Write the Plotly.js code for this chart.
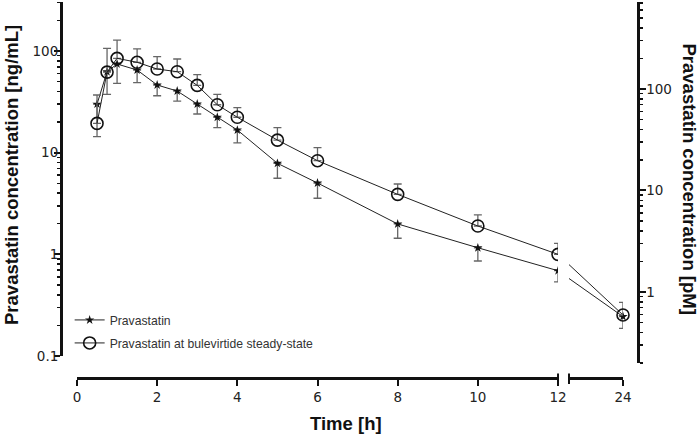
<!DOCTYPE html>
<html>
<head>
<meta charset="utf-8">
<script src="https://cdn.plot.ly/plotly-3.0.1.min.js"></script>
<style>html,body{margin:0;padding:0;background:#fff;}#chart{width:699px;height:435px;}</style>
</head>
<body>
<div id="chart"></div>
<script>
// Time points [h]
const times = [0.5, 0.75, 1, 1.5, 2, 2.5, 3, 3.5, 4, 5, 6, 8, 10, 12, 24];
// Pravastatin alone (mean, ng/mL) and lower end of error bar
const pravaMean  = [30, 62.6, 74.5, 65, 46.3, 40.4, 30.1, 22.3, 16.7, 7.86, 5.03, 1.99, 1.16, 0.69, 0.244];
const pravaLower = [14.4, 37.5, 48.1, 48.8, 36.3, 32.2, 24, 17.6, 12.5, 5.6, 3.56, 1.44, 0.86, 0.535, 0.187];
// Pravastatin at bulevirtide steady-state (mean, ng/mL) and upper end of error bar
const buleMean  = [19.4, 62, 84.7, 77.4, 66.5, 62.6, 45.9, 29.6, 22.3, 13.3, 8.34, 3.89, 1.90, 1.00, 0.253];
const buleUpper = [36.9, 106, 128, 105, 87.9, 83.4, 58.5, 37.5, 27.7, 17.6, 11.2, 4.92, 2.44, 1.28, 0.337];
const seriesNames = ['Pravastatin', 'Pravastatin at bulevirtide steady-state'];
const xTickVals1 = [0, 2, 4, 6, 8, 10, 12];
const xTickVals2 = [24];
const yTickVals = [0.1, 1, 10, 100];
const y2TickVals = [1, 10, 100];

const pravaMinus = pravaMean.map((v, i) => v - pravaLower[i]);
const bulePlus = buleMean.map((v, i) => buleUpper[i] - v);
const zeros = times.map(() => 0);

const nMain = times.length - 1; // points 0.5..12 on first segment
const lineCol = '#222';
const errCol = '#666';

function minorLog(lo, hi) {
  const out = [];
  for (let e = lo; e <= hi; e++) {
    for (let m = 2; m <= 9; m++) out.push(m * Math.pow(10, e));
  }
  return out;
}

const starMarker = {symbol: 'star', size: 7, color: '#111', line: {width: 0}};
const circMarker = {symbol: 'circle-open', size: 12, color: '#111', line: {width: 1.6}};

const traces = [
  {
    x: times.slice(0, nMain), y: pravaMean.slice(0, nMain),
    name: seriesNames[0], legendgroup: 'a', type: 'scatter', mode: 'lines+markers',
    xaxis: 'x', yaxis: 'y',
    line: {color: lineCol, width: 1}, marker: starMarker,
    error_y: {type: 'data', symmetric: false, array: zeros.slice(0, nMain), arrayminus: pravaMinus.slice(0, nMain), color: errCol, thickness: 1.3, width: 4}
  },
  {
    x: times.slice(0, nMain), y: buleMean.slice(0, nMain),
    name: seriesNames[1], legendgroup: 'b', type: 'scatter', mode: 'lines+markers',
    xaxis: 'x', yaxis: 'y',
    line: {color: lineCol, width: 1}, marker: circMarker,
    error_y: {type: 'data', symmetric: false, array: bulePlus.slice(0, nMain), arrayminus: zeros.slice(0, nMain), color: errCol, thickness: 1.3, width: 4}
  },
  // connecting lines across the axis break (clipped to second segment)
  {
    x: times.slice(nMain - 1), y: pravaMean.slice(nMain - 1),
    type: 'scatter', mode: 'lines', showlegend: false, hoverinfo: 'skip',
    xaxis: 'x2', yaxis: 'y', line: {color: lineCol, width: 1}
  },
  {
    x: times.slice(nMain - 1), y: buleMean.slice(nMain - 1),
    type: 'scatter', mode: 'lines', showlegend: false, hoverinfo: 'skip',
    xaxis: 'x2', yaxis: 'y', line: {color: lineCol, width: 1}
  },
  {
    x: times.slice(nMain), y: pravaMean.slice(nMain),
    type: 'scatter', mode: 'markers', showlegend: false,
    xaxis: 'x2', yaxis: 'y', marker: starMarker, cliponaxis: false,
    error_y: {type: 'data', symmetric: false, array: zeros.slice(nMain), arrayminus: pravaMinus.slice(nMain), color: errCol, thickness: 1.3, width: 4}
  },
  {
    x: times.slice(nMain), y: buleMean.slice(nMain),
    type: 'scatter', mode: 'markers', showlegend: false,
    xaxis: 'x2', yaxis: 'y', marker: circMarker, cliponaxis: false,
    error_y: {type: 'data', symmetric: false, array: bulePlus.slice(nMain), arrayminus: zeros.slice(nMain), color: errCol, thickness: 1.3, width: 4}
  }
];

const tickFont = {family: 'DejaVu Sans, Verdana, sans-serif', size: 13.5, color: '#222'};
const titleFont = {family: 'Liberation Sans, Arial, sans-serif', size: 18.5, color: '#111', weight: 'bold'};

const axisCommon = {
  showline: true, linecolor: '#111', linewidth: 2.5,
  ticks: 'outside', ticklen: 6, tickwidth: 2, tickcolor: '#111',
  showgrid: false, zeroline: false, tickfont: tickFont, fixedrange: true
};

const layout = {
  width: 699, height: 435,
  margin: {l: 61, r: 61, t: 2, b: 57},
  paper_bgcolor: '#fff', plot_bgcolor: 'rgba(0,0,0,0)',
  showlegend: true,
  legend: {
    x: 0.015, xanchor: 'left', y: 0.193, yanchor: 'top',
    bgcolor: 'rgba(0,0,0,0)', borderwidth: 0,
    font: {family: 'Liberation Sans, Arial, sans-serif', size: 12.2, color: '#333'},
    tracegroupgap: 4, traceorder: 'grouped'
  },
  xaxis: Object.assign({}, axisCommon, {
    domain: [0.0277, 0.8614], range: [0, 12], anchor: 'free', position: 0,
    tickmode: 'array', tickvals: xTickVals1, ticktext: xTickVals1.map(String)
  }),
  xaxis2: Object.assign({}, axisCommon, {
    domain: [0.8804, 0.974], range: [14.03, 24], anchor: 'free', position: 0,
    tickmode: 'array', tickvals: xTickVals2, ticktext: xTickVals2.map(String)
  }),
  yaxis: Object.assign({}, axisCommon, {
    type: 'log', domain: [0.0585, 1], range: [-1, 2.482], anchor: 'free', position: 0, side: 'left',
    tickmode: 'array', tickvals: yTickVals, ticktext: yTickVals.map(String), ticklabelstandoff: -7,
    minor: {ticks: 'outside', ticklen: 3.5, tickwidth: 1.5, tickcolor: '#111', tickmode: 'array', tickvals: minorLog(-1, 2), showgrid: false}
  }),
  yaxis2: Object.assign({}, axisCommon, {
    type: 'log', domain: [0.0399, 1], range: [-0.70, 2.857], anchor: 'free', position: 1, side: 'right',
    tickmode: 'array', tickvals: y2TickVals, ticktext: y2TickVals.map(String), ticklabelstandoff: -2,
    minor: {ticks: 'outside', ticklen: 3.5, tickwidth: 1.5, tickcolor: '#111', tickmode: 'array', tickvals: minorLog(-1, 2), showgrid: false}
  }),
  shapes: [
    {type: 'line', xref: 'x domain', yref: 'paper', x0: 1, x1: 1, y0: -0.016, y1: 0.012, line: {color: '#111', width: 2}},
    {type: 'line', xref: 'x2 domain', yref: 'paper', x0: 0, x1: 0, y0: -0.016, y1: 0.012, line: {color: '#111', width: 2}}
  ],
  annotations: [
    {text: 'Pravastatin concentration [ng/mL]', xref: 'paper', yref: 'paper', x: -0.0849, y: 0.540,
     xanchor: 'center', yanchor: 'middle', textangle: -90, showarrow: false, font: titleFont},
    {text: 'Pravastatin concentration [pM]', xref: 'paper', yref: 'paper', x: 1.0884, y: 0.5306,
     xanchor: 'center', yanchor: 'middle', textangle: 90, showarrow: false, font: titleFont},
    {text: 'Time [h]', xref: 'paper', yref: 'paper', x: 0.494, y: -0.122,
     xanchor: 'center', yanchor: 'middle', showarrow: false, font: titleFont}
  ]
};

// an invisible helper so the right-hand axis is created
traces.push({x: [times[0]], y: [1], xaxis: 'x', yaxis: 'y2', type: 'scatter', mode: 'markers',
  marker: {opacity: 0}, showlegend: false, hoverinfo: 'skip'});

Plotly.newPlot('chart', traces, layout, {staticPlot: true, displayModeBar: false});
</script>
</body>
</html>
